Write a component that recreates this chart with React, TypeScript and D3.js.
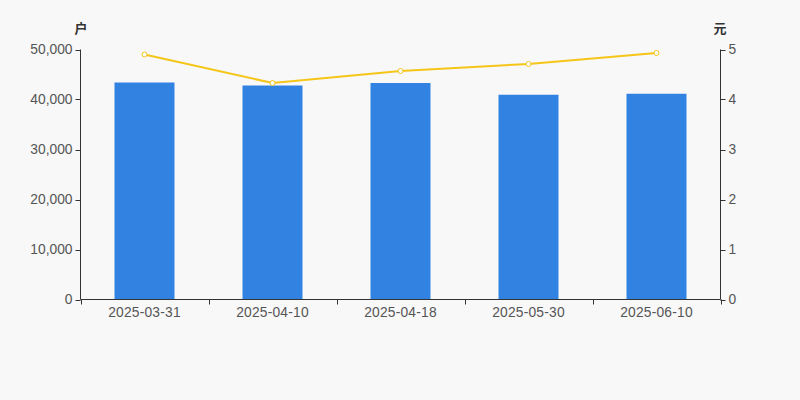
import React from "react";
import * as d3 from "d3";

const categories = ["2025-03-31", "2025-04-10", "2025-04-18", "2025-05-30", "2025-06-10"];
const holders = [43400, 42800, 43300, 40950, 41150];
const prices = [4.9, 4.33, 4.57, 4.71, 4.93];
const leftTicks = [0, 10000, 20000, 30000, 40000, 50000];
const rightTicks = [0, 1, 2, 3, 4, 5];

export default function App() {
  const W = 800, H = 400;
  const left = 80.5, right = 720.5, top = 49.5, bottom = 299.5;
  const x = d3.scaleBand<string>().domain(categories).range([left, right]).paddingInner(0).paddingOuter(0);
  const yL = d3.scaleLinear().domain([0, 50000]).range([bottom, top]);
  const yR = d3.scaleLinear().domain([0, 5]).range([bottom, top]);
  const barW = 60;
  const fmt = d3.format(",");
  const line = d3.line<number>().x((_, i) => x(categories[i])! + x.bandwidth() / 2).y(d => yR(d));
  const font = "Arial, 'Liberation Sans', 'Noto Sans CJK SC', sans-serif";
  const axisColor = "#333";
  const textColor = "#555";
  const fs = 13.8;
  const boundaries = [...categories.map(c => x(c)!), right];
  return (
    <svg width={W} height={H} style={{ display: "block", position: "absolute", left: 0, top: 0 }} fontFamily={font}>
      <rect width={W} height={H} fill="#f8f8f8" />
      {categories.map((c, i) => (
        <rect key={c} x={x(c)! + x.bandwidth() / 2 - barW / 2} y={yL(holders[i])} width={barW} height={bottom - yL(holders[i])} fill="#3282e2" />
      ))}
      <path d={line(prices)!} fill="none" stroke="#f5c518" strokeWidth={2} />
      {prices.map((p, i) => (
        <circle key={i} cx={x(categories[i])! + x.bandwidth() / 2} cy={yR(p)} r={2.5} fill="#fff" stroke="#f5c518" strokeWidth={1} />
      ))}
      <line x1={left} x2={left} y1={top} y2={bottom} stroke={axisColor} />
      {leftTicks.map(t => (
        <g key={t}>
          <line x1={left - 5} x2={left} y1={Math.round(yL(t)) + 0.5} y2={Math.round(yL(t)) + 0.5} stroke={axisColor} />
          <text x={left - 8} y={yL(t)} dy="0.35em" textAnchor="end" fontSize={fs} fill={textColor}>{fmt(t)}</text>
        </g>
      ))}
      <line x1={right} x2={right} y1={top} y2={bottom} stroke={axisColor} />
      {rightTicks.map(t => (
        <g key={t}>
          <line x1={right} x2={right + 5} y1={Math.round(yR(t)) + 0.5} y2={Math.round(yR(t)) + 0.5} stroke={axisColor} />
          <text x={right + 8} y={yR(t)} dy="0.35em" textAnchor="start" fontSize={fs} fill={textColor}>{t}</text>
        </g>
      ))}
      <line x1={left} x2={right} y1={bottom} y2={bottom} stroke={axisColor} />
      {boundaries.map((b, i) => (
        <line key={i} x1={Math.round(b) + 0.5} x2={Math.round(b) + 0.5} y1={bottom} y2={bottom + 5} stroke={axisColor} />
      ))}
      {categories.map(c => (
        <text key={c} x={x(c)! + x.bandwidth() / 2} y={bottom + 13} dy="0.35em" textAnchor="middle" fontSize={fs} letterSpacing={0.2} fill={textColor}>{c}</text>
      ))}
      <text x={81} y={28} dy="0.35em" textAnchor="middle" fontSize={13} fontWeight="bold" fill="#333">户</text>
      <text x={720} y={28} dy="0.35em" textAnchor="middle" fontSize={13} fontWeight="bold" fill="#333">元</text>
    </svg>
  );
}
